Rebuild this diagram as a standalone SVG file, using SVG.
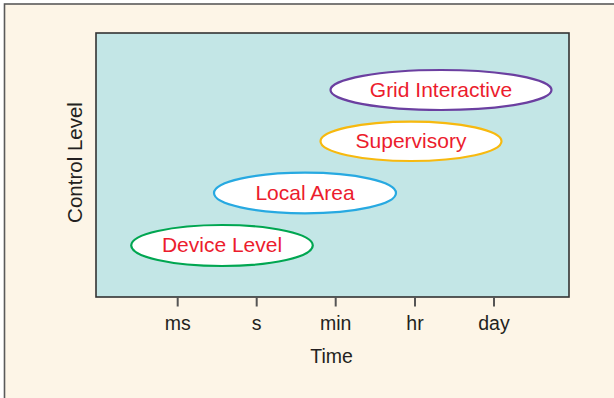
<svg xmlns="http://www.w3.org/2000/svg" width="614" height="398" viewBox="0 0 614 398">
  <style>
    .frame { fill: #fdf5e7; stroke: #5a5a5a; stroke-width: 1.6; }
    .plot { fill: #c3e6e6; stroke: #333333; stroke-width: 1.6; }
    .tick { stroke: #555555; stroke-width: 2; }
    .axis { font-family: "Liberation Sans", Arial, sans-serif; font-size: 19.5px; fill: #231f20; text-anchor: middle; }
    .node ellipse { fill: #ffffff; stroke-width: 2.2; }
    .node text { font-family: "Liberation Sans", Arial, sans-serif; font-size: 21px; fill: #ec1c2d; text-anchor: middle; }
  </style>

  <!-- page panel and plot area -->
  <rect class="frame" x="4.5" y="4" width="700" height="500"/>
  <rect class="plot" x="96" y="33" width="473" height="264"/>

  <!-- time axis -->
  <g id="axis-x">
    <line class="tick" x1="177.7" y1="297" x2="177.7" y2="306.5"/>
    <line class="tick" x1="256.7" y1="297" x2="256.7" y2="306.5"/>
    <line class="tick" x1="335.7" y1="297" x2="335.7" y2="306.5"/>
    <line class="tick" x1="415" y1="297" x2="415" y2="306.5"/>
    <line class="tick" x1="494" y1="297" x2="494" y2="306.5"/>
    <text class="axis" x="177.7" y="330">ms</text>
    <text class="axis" x="256.7" y="330">s</text>
    <text class="axis" x="335.7" y="330">min</text>
    <text class="axis" x="415" y="330">hr</text>
    <text class="axis" x="494" y="330">day</text>
    <text class="axis" x="331.5" y="362.5">Time</text>
  </g>
  <g id="axis-y">
    <text class="axis" style="font-size:20.5px" transform="translate(82.3 162.5) rotate(-90)">Control Level</text>
  </g>

  <!-- control levels -->
  <g id="grid-interactive" class="node">
    <ellipse cx="441" cy="90" rx="110.5" ry="20" stroke="#6b3fa0"/>
    <text x="441" y="96.5">Grid Interactive</text>
  </g>
  <g id="supervisory" class="node">
    <ellipse cx="411" cy="141.3" rx="90.5" ry="19.7" stroke="#f7b90f"/>
    <text x="411" y="147.5">Supervisory</text>
  </g>
  <g id="local-area" class="node">
    <ellipse cx="305" cy="193" rx="91" ry="20.3" stroke="#27a9e1"/>
    <text x="305" y="199.7">Local Area</text>
  </g>
  <g id="device-level" class="node">
    <ellipse cx="222" cy="245.5" rx="90.8" ry="20.5" stroke="#00a651"/>
    <text x="222" y="252">Device Level</text>
  </g>

  <g id="connectors"/>
</svg>
